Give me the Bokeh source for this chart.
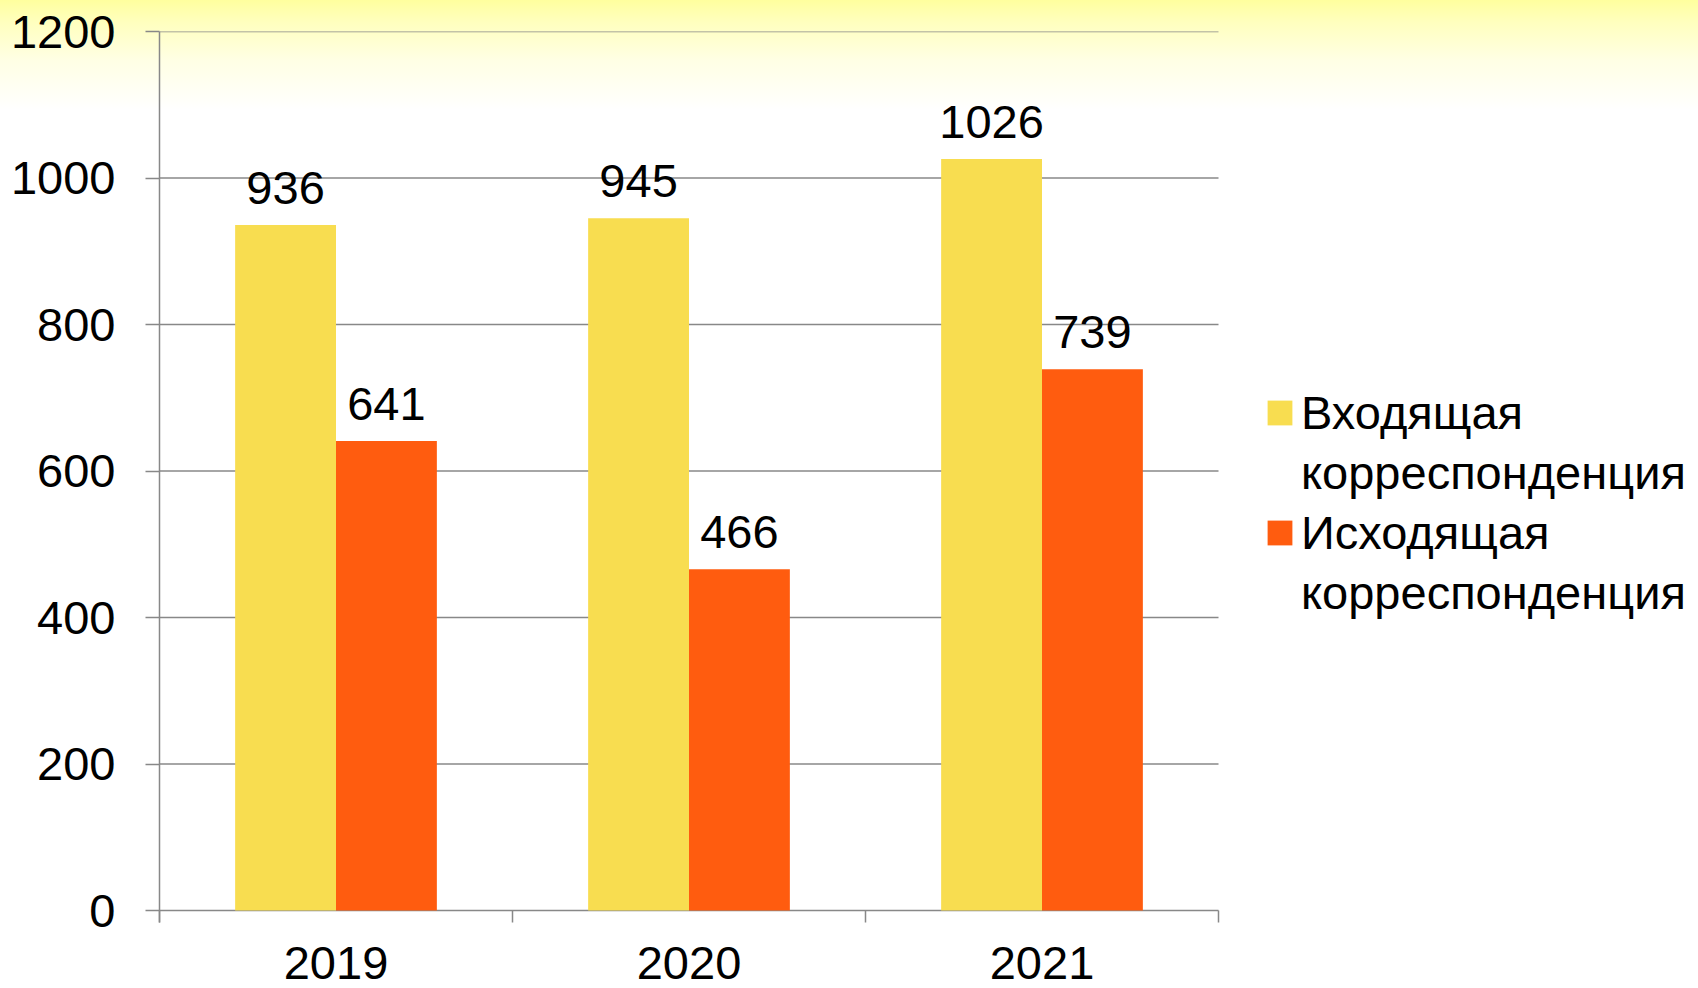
import numpy as np
from bokeh.plotting import figure
from bokeh.models import (ColumnDataSource, FixedTicker, Range1d, Legend, LegendItem, LabelSet)
from bokeh.transform import dodge
from bokeh.core.properties import value
from bokeh.embed import file_html
from bokeh.resources import INLINE

# ---- data ----
years = ["2019", "2020", "2021"]
incoming = [936, 945, 1026]
outgoing = [641, 466, 739]
series_names = [["Входящая", "корреспонденция"], ["Исходящая", "корреспонденция"]]
y_ticks = [0, 200, 400, 600, 800, 1000, 1200]

colors = ["#F8DD50", "#FF5C0F"]
FONT = "Liberation Sans"
FS = "47px"
GRID = "#888888"

# ---- layout (pixels) ----
W, H = 1698, 988
PLOT_L, PLOT_R, PLOT_T, ZERO_Y, TICK_Y = 159, 1218, 31, 910, 922
px_per_unit = (ZERO_Y - PLOT_T) / y_ticks[-1]
y_start = -(TICK_Y - ZERO_Y) / px_per_unit
x_end = len(years) * (W - PLOT_L) / (PLOT_R - PLOT_L)

centers = np.arange(len(years)) + 0.5
bounds = list(np.arange(len(years) + 1).astype(float))
bw = 1 / 3.5

src = ColumnDataSource(dict(x=centers, inc=incoming, out=outgoing,
                            inc_t=[str(v) for v in incoming],
                            out_t=[str(v) for v in outgoing]))

p = figure(width=W, height=H, output_backend="svg", toolbar_location=None,
           x_range=Range1d(0, x_end), y_range=Range1d(y_start, y_ticks[-1]),
           min_border_left=PLOT_L, min_border_right=0, min_border_top=PLOT_T,
           min_border_bottom=H - TICK_Y)
p.border_fill_color = None
p.background_fill_color = None
p.outline_line_color = None
p.styles = {"background": "linear-gradient(to bottom, #FFFF9E 0px, #FFFFBE 22px, #FFFFE4 60px, #FFFFFF 110px)"}

# horizontal gridlines limited to the category area
p.segment(x0=0, x1=len(years), y0=y_ticks, y1=y_ticks, line_color=GRID, line_width=1.5)

r1 = p.vbar(x=dodge("x", -bw / 2), top="inc", width=bw, source=src,
            fill_color=colors[0], line_color=None)
r2 = p.vbar(x=dodge("x", bw / 2), top="out", width=bw, source=src,
            fill_color=colors[1], line_color=None)
r_blank = p.vbar(x=[], top=[], width=bw, fill_alpha=0, line_alpha=0)

# data labels
for col, off in (("inc", -bw / 2), ("out", bw / 2)):
    p.add_layout(LabelSet(x=dodge("x", off), y=col, text=col + "_t", source=src,
                          text_align="center", text_baseline="alphabetic",
                          y_offset=21, text_font=value(FONT), text_font_size=value(FS),
                          text_color="black"))

# y axis
yax = p.yaxis[0]
yax.ticker = FixedTicker(ticks=y_ticks)
yax.axis_line_color = GRID
yax.axis_line_width = 1.5
yax.major_tick_line_color = GRID
yax.major_tick_line_width = 1.5
yax.major_tick_out = 14
yax.major_tick_in = 0
yax.minor_tick_line_color = None
yax.major_label_standoff = 30
yax.major_label_text_font = FONT
yax.major_label_text_font_size = FS
yax.major_label_text_color = "black"

# x axis: labels at category centres, ticks at category boundaries
xax = p.xaxis[0]
xax.ticker = FixedTicker(ticks=list(centers), minor_ticks=bounds)
xax.major_label_overrides = {float(c): y for c, y in zip(centers, years)}
xax.axis_line_color = None
xax.major_tick_line_color = None
xax.major_tick_out = 0
xax.major_tick_in = 0
xax.minor_tick_line_color = GRID
xax.minor_tick_line_width = 1.5
xax.minor_tick_out = 0
xax.minor_tick_in = TICK_Y - ZERO_Y
xax.major_label_standoff = 24
xax.major_label_text_font = FONT
xax.major_label_text_font_size = FS
xax.major_label_text_color = "black"

p.xgrid.grid_line_color = None
p.ygrid.grid_line_color = None

legend = Legend(items=[LegendItem(label=series_names[0][0], renderers=[r1]),
                       LegendItem(label=series_names[0][1], renderers=[r_blank]),
                       LegendItem(label=series_names[1][0], renderers=[r2]),
                       LegendItem(label=series_names[1][1], renderers=[r_blank])],
                location=(1264 - PLOT_L, 302))
legend.glyph_width = 31
legend.glyph_height = 31
legend.label_standoff = 6
legend.spacing = 5
legend.padding = 0
legend.margin = 0
legend.border_line_color = None
legend.background_fill_alpha = 0
legend.label_text_font = FONT
legend.label_text_font_size = FS
legend.label_text_color = "black"
p.add_layout(legend, "center")

open("out.html", "w").write(file_html(p, INLINE))
